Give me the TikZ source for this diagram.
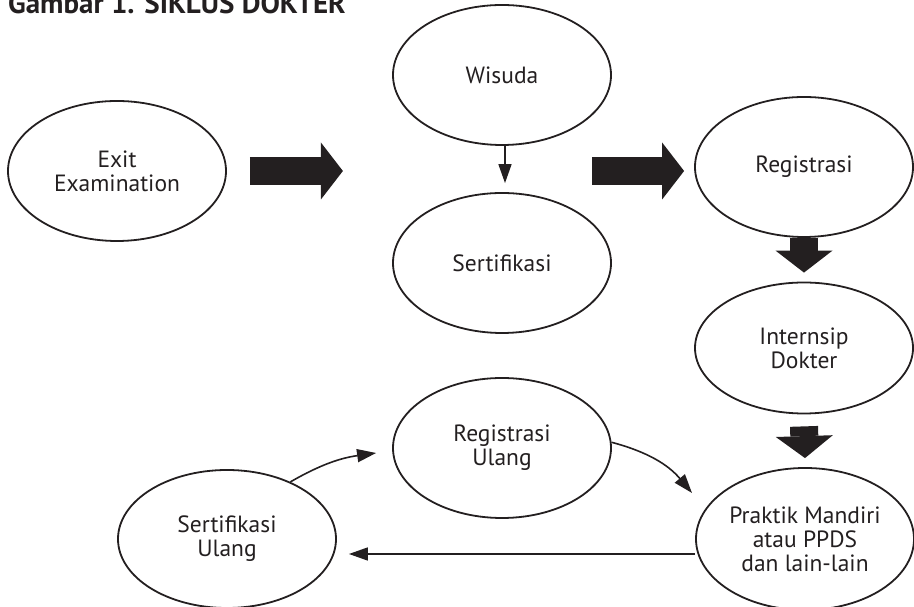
\documentclass[tikz,border=0pt]{standalone}
\usepackage{fontspec}
\setsansfont{PT Sans}
\usetikzlibrary{shapes.geometric,arrows.meta}
\definecolor{ink}{HTML}{231F20}

\begin{document}
\begin{tikzpicture}[x=1pt, y=1pt, font=\sffamily\fontsize{23.5}{24}\selectfont, color=ink,
	bubble/.style={draw, ellipse, line width=1.8pt, minimum width=218pt, minimum height=140pt, inner sep=0pt, align=center},
	thinarrow/.style={line width=1.6pt, -{Triangle[length=19pt, width=13pt]}},
	fatarrow/.style={line width=28pt, -{Triangle[length=22pt, width=57pt, line width=0pt]}}]
		\useasboundingbox (0,0) rectangle (914,607);
		\node[anchor=base west, inner sep=0pt, font=\sffamily\bfseries\fontsize{29}{31}\selectfont] (title) at (8,593) {Gambar 1. SIKLUS DOKTER};
		\node[bubble] (exit) at (117,436) {Exit\\Examination};
		\node[bubble] (wisuda) at (502,532) {Wisuda};
		\node[bubble] (sert) at (502,344) {Sertifikasi};
		\node[bubble] (reg) at (804,440) {Registrasi};
		\node[bubble, minimum height=131pt] (intern) at (804,259) {Internsip\\Dokter};
		\node[bubble, minimum height=142pt] (praktik) at (805,68) {Praktik Mandiri\\atau PPDS\\dan lain-lain};
		\node[bubble] (regu) at (502,159) {Registrasi\\Ulang};
		\node[bubble, minimum height=138pt] (sertu) at (227,68) {Sertifikasi\\Ulang};
		% big arrows
		\draw[fatarrow] ([xshift=23pt]exit.east) -- ++(93,0);
		\draw[fatarrow] ([xshift=-102pt, yshift=-4pt]reg.west) -- ++(92,0);
		\draw[fatarrow] (reg.south) -- ([yshift=9pt]intern.north);
		\draw[fatarrow] ([yshift=-12pt]intern.south) -- ([yshift=9pt]praktik.north);
		% thin arrows
		\draw[thinarrow] ([xshift=3pt]wisuda.south) -- ([xshift=3pt, yshift=9pt]sert.north);
		\draw[thinarrow] (sertu.42) to[out=30, in=188] ([shift={(-16,-5)}]regu.west);
		\draw[thinarrow] (regu.3) to[out=-15, in=130] ([shift={(-113,46)}]praktik.center);
		\draw[thinarrow] ([yshift=-15pt]praktik.west) -- ([shift={(12,-15)}]sertu.east);
	\end{tikzpicture}
\end{document}
